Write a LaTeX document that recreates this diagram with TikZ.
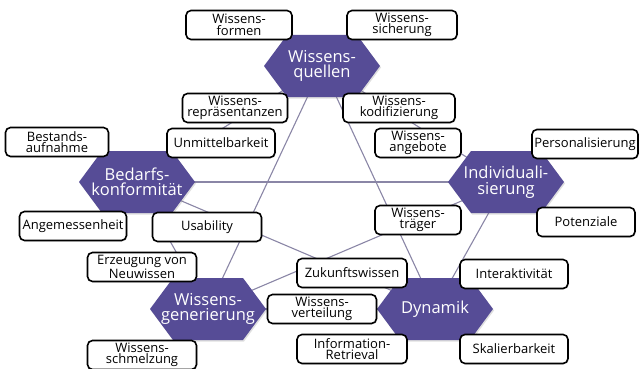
\documentclass[tikz,border=0pt]{standalone}
\usepackage{fontspec}
\setmainfont{Open Sans}
\usetikzlibrary{shadows}
\pgfdeclarelayer{bg}
\pgfdeclarelayer{hexl}
\pgfsetlayers{bg,hexl,main}
\definecolor{hexc}{RGB}{86,76,150}
\definecolor{linec}{RGB}{138,134,166}
\tikzset{
  hextext/.style={text=white, align=center, font=\fontsize{16.5}{15.5}\selectfont, inner sep=0pt},
  hexfill/.style={fill=hexc, drop shadow={opacity=0.25, shadow xshift=1pt, shadow yshift=-1.5pt}},
  conn/.style={draw=linec, line width=1.1pt},
  box/.style={draw=black, line width=1.6pt, rounded corners=5pt, fill=white, align=center,
    font=\fontsize{13}{11.5}\selectfont, minimum height=29pt, inner sep=1pt,
    drop shadow={opacity=0.2, shadow xshift=1pt, shadow yshift=-1pt}},
}
\begin{document}
\begin{tikzpicture}[x=1pt,y=-1pt]
\useasboundingbox (0,0) rectangle (642,369);
% hexagon labels
\node[hextext] (Q) at (322,66) {Wissens-\\quellen};
\node[hextext] (B) at (137,182) {Bedarfs-\\konformität};
\node[hextext] (I) at (506,182) {Individuali-\\sierung};
\node[hextext] (G) at (208,309) {Wissens-\\generierung};
\node[hextext] (D) at (435,309) {Dynamik};
% hexagons
\begin{pgfonlayer}{hexl}
\foreach \n in {Q,B,I,G,D}
  \path[hexfill] ([xshift=-58pt]\n.center) -- ++(23pt,31pt) -- ++(70pt,0pt) -- ++(23pt,-31pt)
    -- ++(-23pt,-31pt) -- ++(-70pt,0pt) -- cycle;
\end{pgfonlayer}
% connectors
\begin{pgfonlayer}{bg}
\draw[conn] (Q.center) -- (B.center);
\draw[conn] (Q.center) -- (I.center);
\draw[conn] (Q.center) -- (G.center);
\draw[conn] (Q.center) -- (D.center);
\draw[conn] (B.center) -- (I.center);
\draw[conn] (B.center) -- (G.center);
\draw[conn] (B.center) -- (D.center);
\draw[conn] (I.center) -- (G.center);
\draw[conn] (I.center) -- (D.center);
\draw[conn] (G.center) -- (D.center);
\end{pgfonlayer}
% boxes
\node[box, minimum width=106pt] (b1) at (239,25) {Wissens-\\formen};
\node[box, minimum width=110pt] (b2) at (402,25) {Wissens-\\sicherung};
\node[box, minimum width=105pt] (b3) at (235,108) {Wissens-\\repräsentanzen};
\node[box, minimum width=112pt] (b4) at (399,108) {Wissens-\\kodifizierung};
\node[box, minimum width=103pt] (b5) at (57,142) {Bestands-\\aufnahme};
\node[box, minimum width=108pt] (b6) at (221,143) {Unmittelbarkeit};
\node[box, minimum width=107pt] (b7) at (73,226) {Angemessenheit};
\node[box, minimum width=109pt] (b8) at (207,227) {Usability};
\node[box, minimum width=86pt] (b9) at (418,143) {Wissens-\\angebote};
\node[box, minimum width=106pt] (b10) at (585,144) {Personalisierung};
\node[box, minimum width=86pt] (b11) at (418,220) {Wissens-\\träger};
\node[box, minimum width=98pt] (b12) at (586,222) {Potenziale};
\node[box, minimum width=109pt] (b13) at (142,267) {Erzeugung von\\Neuwissen};
\node[box, minimum width=109pt] (b14) at (142,355) {Wissens-\\schmelzung};
\node[box, minimum width=110pt] (b15) at (352,273) {Zukunftswissen};
\node[box, minimum width=109pt] (b16) at (322,309) {Wissens-\\verteilung};
\node[box, minimum width=110pt] (b17) at (352,349) {Information-\\Retrieval};
\node[box, minimum width=108pt] (b18) at (514,274) {Interaktivität};
\node[box, minimum width=108pt] (b19) at (514,349) {Skalierbarkeit};
\end{tikzpicture}
\end{document}
